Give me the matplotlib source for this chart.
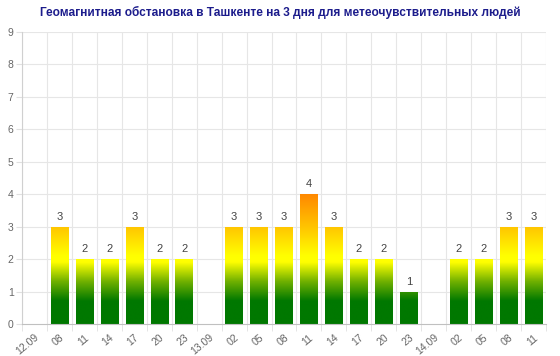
import matplotlib.pyplot as plt
import numpy as np
from matplotlib.colors import LinearSegmentedColormap

plt.rcParams['font.family'] = ['Liberation Sans', 'DejaVu Sans']

# категории по оси x и значения Kp-индекса (None - бара нет)
labels = ['12.09', '08', '11', '14', '17', '20', '23',
          '13.09', '02', '05', '08', '11', '14', '17', '20', '23',
          '14.09', '02', '05', '08', '11']
values = [None, 3, 2, 2, 3, 2, 2,
          None, 3, 3, 3, 4, 3, 2, 2, 1,
          None, 2, 2, 3, 3]

title = 'Геомагнитная обстановка в Ташкенте на 3 дня для метеочувствительных людей'

# градиент по абсолютной высоте: зелёный -> жёлтый -> оранжевый
ymax_grad = 4.0
cmap = LinearSegmentedColormap.from_list('kp', [
    (0.0, '#007800'),
    (0.7 / ymax_grad, '#007800'),
    (1.3 / ymax_grad, '#6fb000'),
    (1.9 / ymax_grad, '#ffff00'),
    (2.1 / ymax_grad, '#ffff00'),
    (3.0 / ymax_grad, '#ffc400'),
    (1.0, '#ff8800'),
])

fig = plt.figure(figsize=(5.6, 3.56), dpi=100)
ax = fig.add_axes([22 / 560, 1 - 324 / 356, 524 / 560, (324 - 32) / 356])

n = len(labels)
x = np.arange(n)
width = 0.7
grad = np.linspace(0, 1, 256).reshape(-1, 1)

for xi, v in zip(x, values):
    if v is None:
        continue
    bar = ax.bar(xi, v, width=width, color='none', edgecolor='none')[0]
    im = ax.imshow(grad * v / ymax_grad, cmap=cmap, vmin=0, vmax=1,
                   extent=[xi - width / 2, xi + width / 2, 0, v],
                   origin='lower', aspect='auto', zorder=2)
    im.set_clip_path(bar)
    ax.text(xi, v + 0.15, str(v), ha='center', va='bottom',
            fontsize=8, color='#444444')

ax.set_xlim(-0.5, n - 0.5)
ax.set_ylim(0, 9)
ax.set_yticks(range(10))
ax.tick_params(axis='y', labelsize=7.5, colors='#666666', length=4,
               color='#e0e0e0', pad=2)

# вертикальная сетка между категориями
for b in np.arange(-0.5, n, 1):
    ax.axvline(b, color='#e6e6e6', lw=0.8, zorder=0)
for yv in range(1, 10):
    ax.axhline(yv, color='#e6e6e6', lw=0.8, zorder=0)

ax.set_xticks(x)
ax.set_xticklabels(labels, rotation=40, ha='right', rotation_mode='anchor')
ax.tick_params(axis='x', labelsize=7.5, colors='#666666', length=0, pad=6)
ax.set_xticks(np.arange(-0.5, n, 1), minor=True)
ax.tick_params(axis='x', which='minor', length=5, color='#e0e0e0')

for side in ['top', 'right']:
    ax.spines[side].set_visible(False)
ax.spines['left'].set_color('#d0d0d0')
ax.spines['bottom'].set_color('#c0c0c0')

fig.text(0.5, 1 - 12 / 356, title, ha='center', va='center',
         fontsize=8.6, fontweight='bold', color='#1c1c8c')

fig.savefig('out.png', dpi=100)
